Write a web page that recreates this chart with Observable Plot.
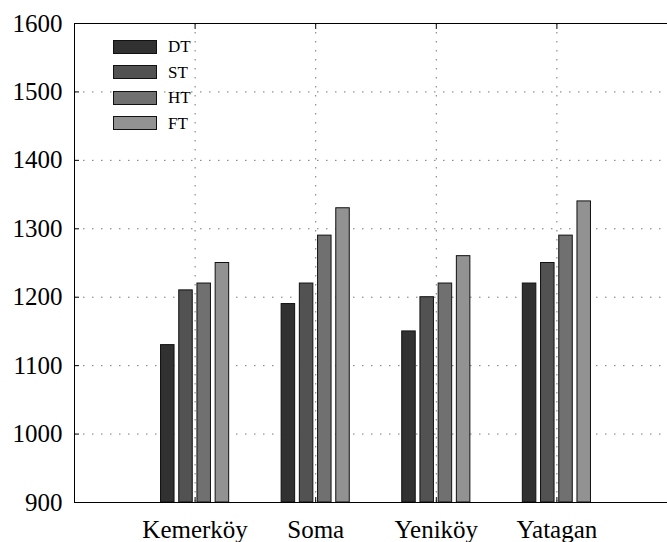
<!DOCTYPE html>
<html>
<head>
<meta charset="utf-8">
<script src="https://cdn.jsdelivr.net/npm/d3@7"></script>
<script src="https://cdn.jsdelivr.net/npm/@observablehq/plot@0.6"></script>
<style>
  html, body { margin: 0; padding: 0; background: #fff; }
  #wrap { position: relative; width: 667px; height: 542px; overflow: hidden; font-family: 'Liberation Serif', 'Times New Roman', Times, serif; }
  #legend { position: absolute; left: 113px; top: 40px; }
  .lg-row { display: flex; align-items: center; height: 13px; margin-bottom: 12.5px; }
  .lg-box { width: 42px; height: 12px; border: 1px solid #111; box-sizing: content-box; }
  .lg-label { margin-left: 11px; font-size: 17px; color: #000; line-height: 13px; font-family: 'Liberation Serif', 'Times New Roman', Times, serif; }
</style>
</head>
<body>
<div id="wrap"></div>
<script>
const categories = ["Kemerköy", "Soma", "Yeniköy", "Yatagan"];
const series = ["DT", "ST", "HT", "FT"];
const DT = [1130, 1190, 1150, 1220];
const ST = [1210, 1220, 1200, 1250];
const HT = [1220, 1290, 1220, 1290];
const FT = [1250, 1330, 1260, 1340];
const colors = ["#313131", "#525252", "#707070", "#929292"];
const yTicks = [900, 1000, 1100, 1200, 1300, 1400, 1500, 1600];
const yDomain = [900, 1600];

const valuesBySeries = [DT, ST, HT, FT];
const data = [];
categories.forEach((c, ci) => {
  series.forEach((s, si) => {
    data.push({category: c, ci, series: s, si, value: valuesBySeries[si][ci]});
  });
});

const step = 0.151, barW = 0.112;
const center = d => d.ci + 1 + (d.si - 1.5) * step;
const serif = "'Liberation Serif', 'Times New Roman', Times, serif";

const gridStyle = {stroke: "#777", strokeOpacity: 1, strokeDasharray: "1.5,7.5", strokeWidth: 1};

const chart = Plot.plot({
  width: 667,
  height: 542,
  marginLeft: 74,
  marginTop: 23,
  marginBottom: 40,
  marginRight: -10,
  style: {fontFamily: serif, background: "#fff", color: "#000"},
  x: {type: "linear", domain: [0, 5]},
  y: {domain: yDomain},
  color: {domain: series, range: colors},
  marks: [
    Plot.gridY(yTicks.slice(1, -1), gridStyle),
    Plot.gridX([1, 2, 3, 4], gridStyle),
    Plot.rect(data, {
      x1: d => center(d) - barW / 2,
      x2: d => center(d) + barW / 2,
      y1: () => yDomain[0],
      y2: "value",
      fill: "series",
      stroke: "#111",
      strokeWidth: 1
    }),
    Plot.frame({stroke: "#000", strokeWidth: 1}),
    Plot.axisY(yTicks, {anchor: "left", tickSize: -5, tickPadding: 17, fontSize: 25, label: null,
      fontFamily: serif, tickFormat: d => String(d)}),
    Plot.axisX([1, 2, 3, 4], {anchor: "bottom", tickSize: -5, tickPadding: 23, fontSize: 25, label: null,
      fontFamily: serif, tickFormat: i => categories[i - 1]}),
    Plot.axisX([1, 2, 3, 4], {anchor: "top", tickSize: -5, tickFormat: () => "", label: null})
  ]
});

const wrap = document.getElementById("wrap");
wrap.appendChild(chart);

const legend = document.createElement("div");
legend.id = "legend";
series.forEach((s, i) => {
  const row = document.createElement("div");
  row.className = "lg-row";
  const box = document.createElement("div");
  box.className = "lg-box";
  box.style.background = colors[i];
  const lab = document.createElement("span");
  lab.className = "lg-label";
  lab.textContent = s;
  row.appendChild(box);
  row.appendChild(lab);
  legend.appendChild(row);
});
wrap.appendChild(legend);
</script>
</body>
</html>
